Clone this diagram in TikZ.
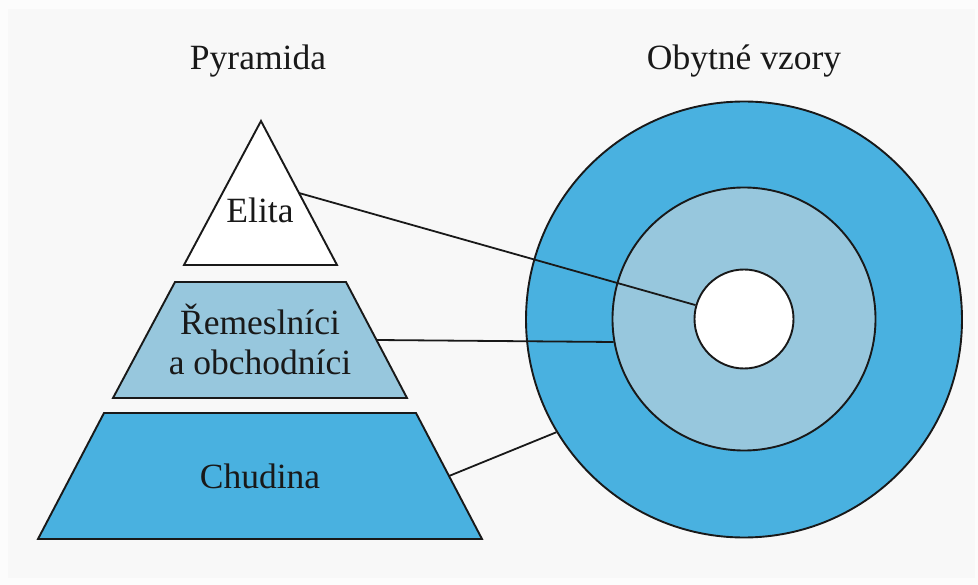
\documentclass[tikz,border=0pt]{standalone}
\usepackage{fontspec}
\setmainfont{Liberation Serif}
\usetikzlibrary{calc}
\definecolor{bluedark}{HTML}{49B1E0}
\definecolor{bluelight}{HTML}{97C7DD}
\definecolor{bgray}{HTML}{F8F8F8}
\begin{document}
\begin{tikzpicture}[x=1pt,y=-1pt,
  outline/.style={draw=black!90,line width=1.9pt,line join=miter},
  conn/.style={draw=black!90,line width=1.8pt},
  lbl/.style={font=\fontsize{35.5}{40}\selectfont,text=black!90,inner sep=0pt,align=center},
  ring/.style={circle,draw=black!90,line width=1.9pt,inner sep=0pt}]
\useasboundingbox (0,0) rectangle (978,585);
\fill[white!60!bgray] (0,0) rectangle (978,585);
\fill[bgray] (8,9) rectangle (975,578);
% titles
\node[lbl,anchor=base] (t1) at (258,70) {Pyramida};
\node[lbl,anchor=base] (t2) at (744,70) {Obytné vzory};
% pyramid
\coordinate (a1) at (261,121); \coordinate (a2) at (337,265); \coordinate (a3) at (184,265);
\path[outline,fill=white] (a1) -- (a2) -- (a3) -- cycle;
\coordinate (b1) at (175,282); \coordinate (b2) at (346,282); \coordinate (b3) at (407,398); \coordinate (b4) at (113,398);
\path[outline,fill=bluelight] (b1) -- (b2) -- (b3) -- (b4) -- cycle;
\coordinate (c1) at (104,413); \coordinate (c2) at (416,413); \coordinate (c3) at (482,539); \coordinate (c4) at (38,539);
\path[outline,fill=bluedark] (c1) -- (c2) -- (c3) -- (c4) -- cycle;
\node[lbl,anchor=base] (elita) at (260,223) {Elita};
\node[lbl,anchor=base] (rem1) at (260,335) {Řemeslníci};
\node[lbl,anchor=base] (rem2) at (260,375) {a obchodníci};
\node[lbl,anchor=base] (chud) at (260,488) {Chudina};
\coordinate (pe) at ($(a1)!0.5!(a2)$);
\coordinate (pm) at ($(b2)!0.5!(b3)$);
\coordinate (pc) at ($(c2)!0.5!(c3)$);
% rings
\node[ring,fill=bluedark,minimum size=436pt] (outer) at (744,319.5) {};
\node[ring,fill=bluelight,minimum size=263pt] (mid) at (744,319) {};
\node[ring,fill=white,minimum size=99pt] (inner) at (744,319) {};
% connectors
\draw[conn] (pe) -- (inner.164);
\draw[conn] (pm) -- (mid.190);
\draw[conn] (pc) -- (outer.211);
\end{tikzpicture}
\end{document}
